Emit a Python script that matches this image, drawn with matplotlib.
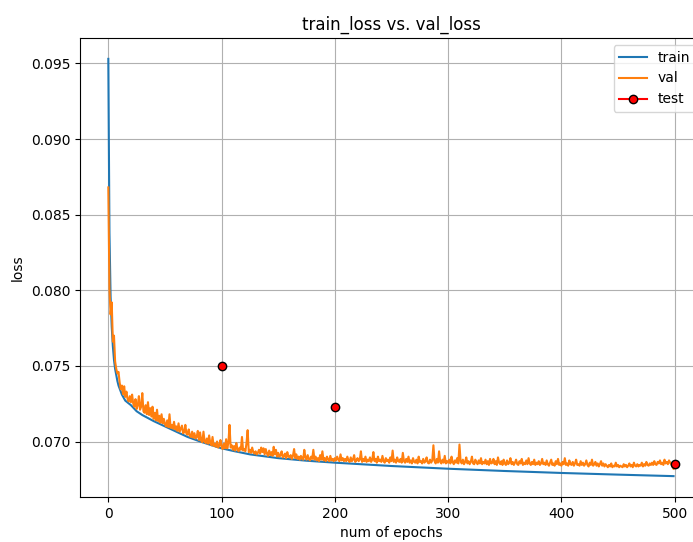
import numpy as np
import matplotlib
matplotlib.use("Agg")
import matplotlib.pyplot as plt

# training loss, read at selected epochs (smooth curve)
train_epochs = [0, 1, 2, 3, 4, 5, 6, 7, 8, 9, 10, 12, 15, 20, 25, 30, 40, 50, 60, 70,
                80, 90, 100, 110, 125, 150, 175, 200, 250, 300, 350, 400, 450, 499]
train_loss = [0.0953, 0.0838, 0.0796, 0.0776, 0.0763, 0.0754, 0.0748, 0.0744, 0.0740,
              0.0737, 0.0735, 0.0731, 0.0727, 0.0724, 0.0720, 0.07175, 0.07135, 0.0710,
              0.07065, 0.0703, 0.07003, 0.06978, 0.06955, 0.06938, 0.06915, 0.0689,
              0.06873, 0.0686, 0.06838, 0.0682, 0.06805, 0.06792, 0.06781, 0.06771]

# validation loss per epoch, in units of 1e-5
val_e5 = [
    8680, 8010, 7840, 7920, 7660, 7700, 7530, 7480, 7450, 7460,
    7390, 7345, 7370, 7312, 7365, 7295, 7330, 7280, 7265, 7300,
    7260, 7310, 7250, 7230, 7280, 7215, 7240, 7300, 7210, 7230,
    7320, 7200, 7190, 7240, 7180, 7260, 7175, 7220, 7165, 7230,
    7150, 7190, 7140, 7210, 7135, 7170, 7125, 7180, 7120, 7150,
    7115, 7100, 7140, 7095, 7180, 7090, 7110, 7085, 7130, 7080,
    7100, 7070, 7120, 7065, 7085, 7105, 7055, 7060, 7110, 7050,
    7045, 7080, 7035, 7030, 7065, 7025, 7055, 7020, 7030, 7070,
    7010, 7060, 7005, 6995, 7065, 7000, 6990, 7020, 6985, 7040,
    6990, 6975, 7030, 6970, 6985, 6965, 7000, 6960, 6975, 7010,
    6965, 6950, 6985, 6955, 7015, 6955, 6990, 7110, 6960, 6975,
    6945, 6970, 6940, 6990, 6950, 6935, 6960, 6945, 7030, 6940,
    6950, 6935, 6990, 7075, 6930, 6945, 6925, 6960, 6930, 6920,
    6935, 6915, 6925, 6945, 6920, 6960, 6930, 6955, 6915, 6950,
    6920, 6905, 6940, 6910, 6930, 6905, 6965, 6915, 6945, 6900,
    6925, 6900, 6910, 6935, 6895, 6905, 6920, 6890, 6930, 6900,
    6895, 6910, 6885, 6905, 6950, 6890, 6915, 6885, 6900, 6880,
    6905, 6890, 6880, 6945, 6895, 6880, 6910, 6885, 6875, 6900,
    6885, 6945, 6880, 6900, 6875, 6890, 6870, 6910, 6880, 6935,
    6875, 6890, 6870, 6900, 6880, 6870, 6905, 6875, 6885, 6870,
    6890, 6875, 6900, 6880, 6870, 6915, 6875, 6890, 6870, 6885,
    6870, 6900, 6875, 6865, 6895, 6870, 6880, 6910, 6865, 6875,
    6890, 6870, 6880, 6935, 6865, 6885, 6870, 6900, 6865, 6880,
    6870, 6895, 6865, 6880, 6930, 6870, 6885, 6860, 6900, 6870,
    6880, 6865, 6905, 6870, 6860, 6890, 6870, 6880, 6860, 6895,
    6870, 6940, 6865, 6880, 6860, 6895, 6870, 6865, 6885, 6860,
    6925, 6870, 6860, 6885, 6865, 6900, 6860, 6875, 6855, 6890,
    6865, 6860, 6880, 6855, 6900, 6865, 6870, 6855, 6885, 6860,
    6870, 6895, 6860, 6855, 6880, 6860, 6875, 6975, 6870, 6855,
    6885, 6860, 6935, 6865, 6855, 6880, 6860, 6905, 6855, 6870,
    6860, 6880, 6855, 6900, 6865, 6850, 6875, 6860, 6890, 6855,
    6980, 6870, 6855, 6880, 6850, 6865, 6895, 6855, 6870, 6850,
    6865, 6900, 6855, 6850, 6880, 6860, 6850, 6875, 6855, 6890,
    6850, 6865, 6855, 6880, 6850, 6870, 6845, 6885, 6855, 6860,
    6885, 6850, 6870, 6845, 6895, 6860, 6850, 6870, 6845, 6880,
    6855, 6845, 6875, 6850, 6860, 6890, 6850, 6865, 6845, 6860,
    6880, 6850, 6845, 6870, 6855, 6885, 6845, 6860, 6850, 6875,
    6850, 6890, 6855, 6845, 6865, 6850, 6880, 6845, 6860, 6850,
    6870, 6845, 6855, 6885, 6850, 6860, 6845, 6875, 6850, 6840,
    6860, 6880, 6845, 6855, 6840, 6870, 6850, 6885, 6845, 6855,
    6840, 6865, 6850, 6890, 6845, 6855, 6840, 6875, 6850, 6845,
    6865, 6840, 6855, 6880, 6845, 6850, 6840, 6870, 6845, 6860,
    6840, 6850, 6875, 6845, 6835, 6860, 6845, 6880, 6840, 6850,
    6865, 6840, 6855, 6835, 6850, 6870, 6840, 6855, 6835, 6850,
    6840, 6830, 6845, 6835, 6855, 6830, 6840, 6835, 6860, 6835,
    6845, 6830, 6840, 6835, 6830, 6850, 6835, 6845, 6830, 6840,
    6855, 6835, 6845, 6830, 6860, 6840, 6835, 6850, 6835, 6845,
    6840, 6860, 6835, 6850, 6840, 6865, 6845, 6840, 6855, 6845,
    6860, 6845, 6870, 6850, 6845, 6865, 6855, 6875, 6850, 6860,
    6845, 6880, 6855, 6865, 6850, 6875, 6860, 6850, 6835, 6820,
]
val_loss = np.array(val_e5) / 1e5
val_epochs = np.arange(len(val_loss))

test_epochs = [100, 200, 500]
test_loss = [0.0750, 0.0723, 0.0685]

fig = plt.figure(figsize=(6.93, 5.42), dpi=100)
ax = fig.add_axes([80 / 693, 45 / 542, 623 / 693, 459 / 542])

ax.plot(train_epochs, train_loss, color="tab:blue", label="train")
ax.plot(val_epochs, val_loss, color="tab:orange", label="val")
for i, (e, l) in enumerate(zip(test_epochs, test_loss)):
    ax.plot([e], [l], color="red", marker="o", markeredgecolor="black",
            markersize=6, label="test" if i == 0 else None)

ax.set_title("train_loss vs. val_loss", fontsize=12)
ax.set_xlabel("num of epochs")
ax.set_ylabel("loss")
ax.set_xticks([0, 100, 200, 300, 400, 500])
ax.grid(True)
ax.legend(loc="upper right")

fig.savefig("out.png", dpi=100)
